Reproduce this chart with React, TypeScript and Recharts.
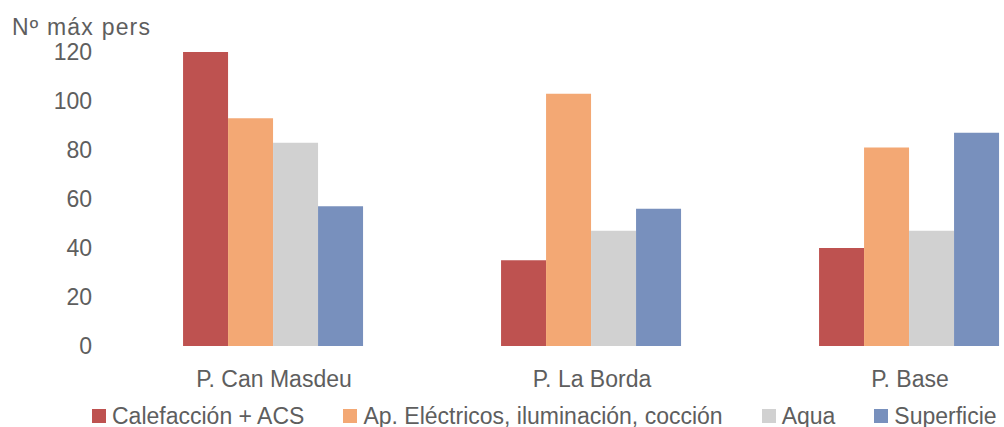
import React from 'react';
import { BarChart, Bar, XAxis, YAxis, Legend } from 'recharts';

const categories = ['P. Can Masdeu', 'P. La Borda', 'P. Base'];
const calefaccion = [120, 35, 40];
const electricos = [93, 103, 81];
const agua = [83, 47, 47];
const superficie = [57, 56, 87];
const yTicks = [0, 20, 40, 60, 80, 100, 120];

const seriesKeys = ['calefaccion', 'electricos', 'agua', 'superficie'];
const seriesNames = ['Calefacción + ACS', 'Ap. Eléctricos, iluminación, cocción', 'Aqua', 'Superficie'];
const seriesColors = ['#BE5250', '#F3A874', '#D1D1D1', '#7890BD'];

const data = categories.map((c, i) => ({
  name: c,
  calefaccion: calefaccion[i],
  electricos: electricos[i],
  agua: agua[i],
  superficie: superficie[i],
}));

const FONT = '"Liberation Sans", Arial, sans-serif';
const TEXT = '#5E5E5E';

const LegendContent = () => (
  <div
    style={{
      display: 'flex',
      alignItems: 'center',
      height: 33,
      paddingLeft: 92,
      paddingTop: 11,
      boxSizing: 'border-box',
      fontFamily: FONT,
      fontSize: 23,
      color: TEXT,
      whiteSpace: 'nowrap',
    }}
  >
    {seriesNames.map((n, i) => (
      <div key={n} style={{ display: 'flex', alignItems: 'center', marginRight: 39 }}>
        <span style={{ display: 'inline-block', width: 14, height: 14, background: seriesColors[i], marginRight: 6 }} />
        <span style={{ lineHeight: '23px' }}>{n}</span>
      </div>
    ))}
  </div>
);

const YLabel = () => (
  <text x={12} y={35} fill={TEXT} fontSize={23} fontFamily={FONT} letterSpacing={1.2}>
    Nº máx pers
  </text>
);

export default function App() {
  return (
    <div style={{ position: 'absolute', left: 0, top: 0, width: 1004, height: 427, overflow: 'hidden', background: '#fff' }}>
      <BarChart
        width={1080}
        height={427}
        data={data}
        margin={{ top: 52, right: 11, left: 1, bottom: 0 }}
        barCategoryGap="21.4%"
        barGap={0}
        style={{ fontFamily: FONT }}
      >
        <XAxis
          dataKey="name"
          height={48}
          tickLine={false}
          axisLine={false}
          tickMargin={19}
          tick={{ fill: TEXT, fontSize: 23, fontFamily: FONT }}
        />
        <YAxis
          width={114}
          domain={[0, 120]}
          ticks={yTicks}
          tickLine={false}
          axisLine={false}
          tickMargin={17}
          interval={0}
          tick={{ fill: TEXT, fontSize: 23, fontFamily: FONT }}
          label={<YLabel />}
        />
        <Legend
          verticalAlign="bottom"
          content={<LegendContent />}
          wrapperStyle={{ left: 0, width: 1080 }}
        />
        {seriesKeys.map((k, i) => (
          <Bar key={k} dataKey={k} name={seriesNames[i]} fill={seriesColors[i]} isAnimationActive={false} />
        ))}
      </BarChart>
    </div>
  );
}
